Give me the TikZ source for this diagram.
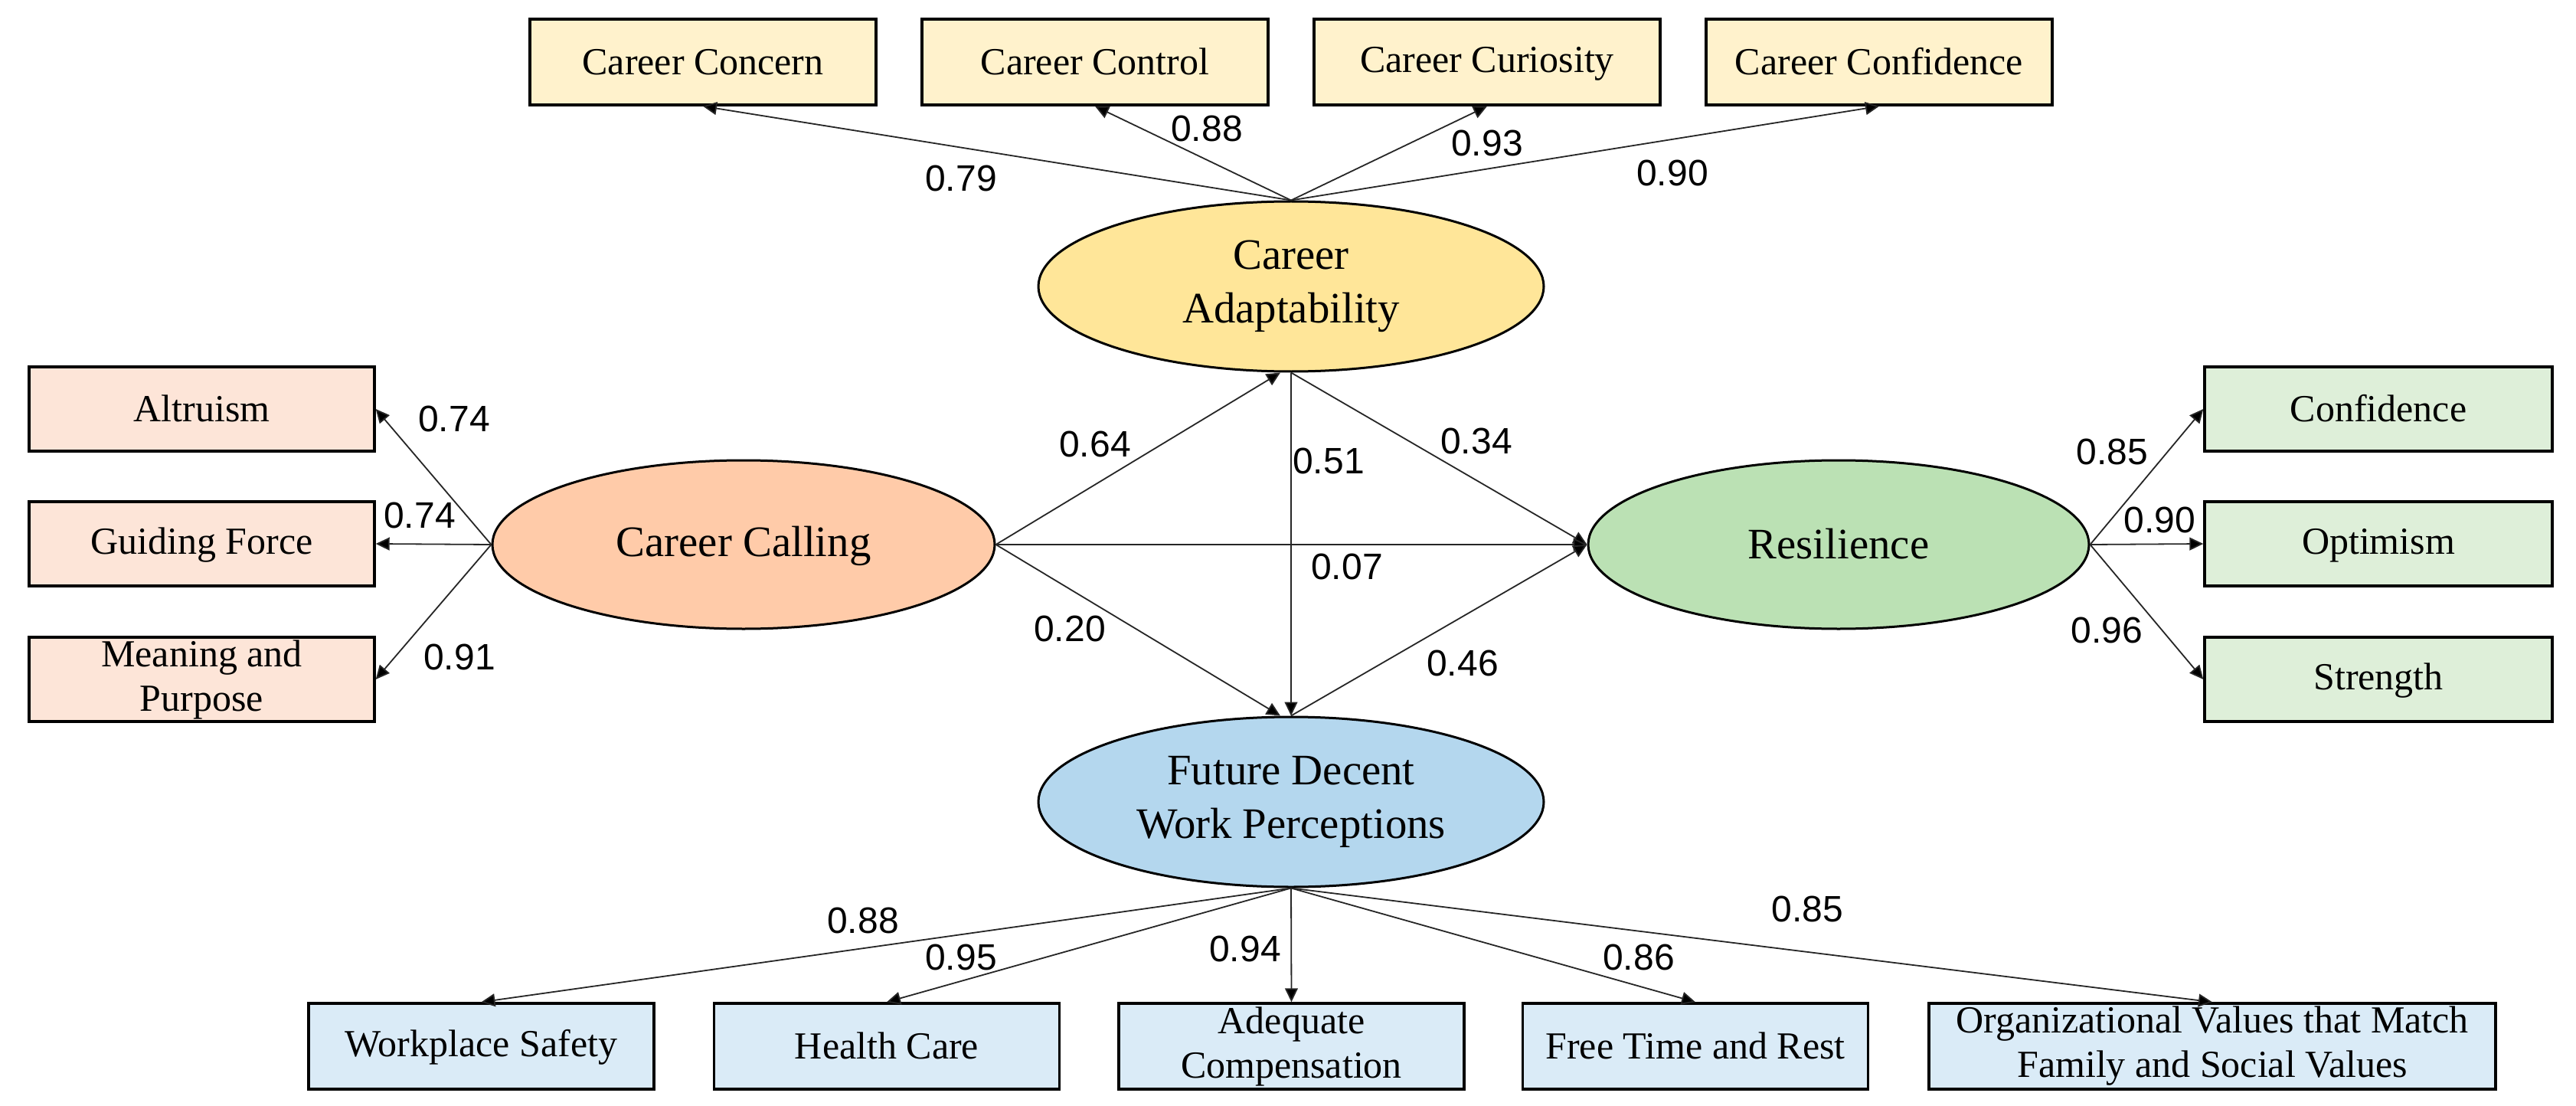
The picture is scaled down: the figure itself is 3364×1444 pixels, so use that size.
\documentclass[tikz,border=0pt]{standalone}
\usepackage{fontspec}
\setmainfont{Liberation Serif}
\newfontfamily\numfont{Liberation Sans}
\usetikzlibrary{shapes.geometric,arrows.meta}
\definecolor{topbox}{HTML}{FFF2CC}
\definecolor{adaptfill}{HTML}{FFE699}
\definecolor{leftbox}{HTML}{FDE5D8}
\definecolor{callfill}{HTML}{FFCBA9}
\definecolor{rightbox}{HTML}{DEEFD9}
\definecolor{resilfill}{HTML}{BBE1B4}
\definecolor{botbox}{HTML}{DAEBF7}
\definecolor{fdwpfill}{HTML}{B4D7EE}
\tikzset{
  indbox/.style={draw=black, line width=0.85pt, rectangle, inner sep=0pt,
    minimum height=28pt, align=center, font=\fontsize{12.5}{14.5}\selectfont,
    execute at begin node={\rule{0pt}{9.5pt}}, execute at end node={\rule[-1.2pt]{0pt}{0pt}}},
  latent/.style={draw=black, line width=0.75pt, ellipse, inner sep=0pt,
    minimum width=165pt, minimum height=55.5pt, align=center,
    font=\fontsize{14.2}{17.5}\selectfont,
    execute at begin node={\rule{0pt}{10.8pt}}, execute at end node={\rule[-1.4pt]{0pt}{0pt}}},
  path/.style={draw=black!85, line width=0.45pt, -{Triangle[length=4.5pt,width=4.2pt,fill=black]}},
  coef/.style={font=\numfont\fontsize{12}{14}\selectfont, inner sep=0pt}
}
\begin{document}
\begin{tikzpicture}[x=0.25pt,y=-0.25pt]
\useasboundingbox (0,0) rectangle (3364,1444);
% top indicators
\node[indbox, fill=topbox, minimum width=113pt] (cc1) at (918,81) {Career Concern};
\node[indbox, fill=topbox, minimum width=113pt] (cc2) at (1430,81) {Career Control};
\node[indbox, fill=topbox, minimum width=113pt] (cc3) at (1942,81) {Career Curiosity};
\node[indbox, fill=topbox, minimum width=113pt] (cc4) at (2454,81) {Career Confidence};
% left indicators
\node[indbox, fill=leftbox, minimum width=112.75pt, minimum height=27.5pt] (alt) at (263.5,534) {Altruism};
\node[indbox, fill=leftbox, minimum width=112.75pt, minimum height=27.5pt] (gf) at (263.5,710) {Guiding Force};
\node[indbox, fill=leftbox, minimum width=112.75pt, minimum height=27.5pt] (mp) at (263.5,887) {Meaning and\\Purpose};
% right indicators
\node[indbox, fill=rightbox, minimum width=113.5pt, minimum height=27.5pt] (conf) at (3106,534) {Confidence};
\node[indbox, fill=rightbox, minimum width=113.5pt, minimum height=27.5pt] (opt) at (3106,710) {Optimism};
\node[indbox, fill=rightbox, minimum width=113.5pt, minimum height=27.5pt] (str) at (3106,887) {Strength};
% bottom indicators
\node[indbox, fill=botbox, minimum width=112.75pt] (ws) at (628.5,1366) {Workplace Safety};
\node[indbox, fill=botbox, minimum width=112.75pt] (hc) at (1158,1366) {Health Care};
\node[indbox, fill=botbox, minimum width=112.75pt] (ac) at (1686.5,1366) {Adequate\\Compensation};
\node[indbox, fill=botbox, minimum width=112.75pt] (ft) at (2214,1366) {Free Time and Rest};
\node[indbox, fill=botbox, minimum width=185pt] (ov) at (2889,1366) {Organizational Values that Match\\Family and Social Values};
% latent variables
\node[latent, fill=adaptfill] (ca) at (1686,374) {Career\\Adaptability};
\node[latent, fill=callfill, minimum width=164pt, minimum height=55pt] (cl) at (971,711) {Career Calling};
\node[latent, fill=resilfill, minimum width=163.5pt, minimum height=55pt] (rs) at (2401,711) {Resilience};
\node[latent, fill=fdwpfill] (fd) at (1686,1047) {Future Decent\\Work Perceptions};
% measurement paths
\draw[path] (ca.north) -- (cc1.south);
\draw[path] (ca.north) -- (cc2.south);
\draw[path] (ca.north) -- (cc3.south);
\draw[path] (ca.north) -- (cc4.south);
\draw[path] (cl.west) -- (alt.east);
\draw[path] (cl.west) -- (gf.east);
\draw[path] (cl.west) -- (mp.east);
\draw[path] (rs.east) -- (conf.west);
\draw[path] (rs.east) -- (opt.west);
\draw[path] (rs.east) -- (str.west);
\draw[path] (fd.south) -- (ws.north);
\draw[path] (fd.south) -- (hc.north);
\draw[path] (fd.south) -- (ac.north);
\draw[path] (fd.south) -- (ft.north);
\draw[path] (fd.south) -- (ov.north);
% structural paths
\draw[path] (cl.east) -- ([xshift=-3.5pt]ca.south);
\draw[path] (ca.south) -- (fd.north);
\draw[path] (ca.south) -- (rs.west);
\draw[path] (cl.east) -- (rs.west);
\draw[path] (cl.east) -- ([xshift=-3.5pt]fd.north);
\draw[path] (fd.north) -- (rs.west);
% coefficients
\node[coef] (l1) at (1255,233) {0.79};
\node[coef] (l2) at (1576,168) {0.88};
\node[coef] (l3) at (1942,187) {0.93};
\node[coef] (l4) at (2184,226) {0.90};
\node[coef] (l5) at (593,547) {0.74};
\node[coef] (l6) at (548,673) {0.74};
\node[coef] (l7) at (600,858) {0.91};
\node[coef] (l8) at (1430,580) {0.64};
\node[coef] (l9) at (1735,602) {0.51};
\node[coef] (l10) at (1928,576) {0.34};
\node[coef] (l11) at (1759,740) {0.07};
\node[coef] (l12) at (1397,821) {0.20};
\node[coef] (l13) at (1910,866) {0.46};
\node[coef] (l14) at (2758,590) {0.85};
\node[coef] (l15) at (2820,679) {0.90};
\node[coef] (l16) at (2751,823) {0.96};
\node[coef] (l17) at (1127,1202) {0.88};
\node[coef] (l18) at (1255,1250) {0.95};
\node[coef] (l19) at (1626,1239) {0.94};
\node[coef] (l20) at (2140,1250) {0.86};
\node[coef] (l21) at (2360,1187) {0.85};
\end{tikzpicture}
\end{document}
